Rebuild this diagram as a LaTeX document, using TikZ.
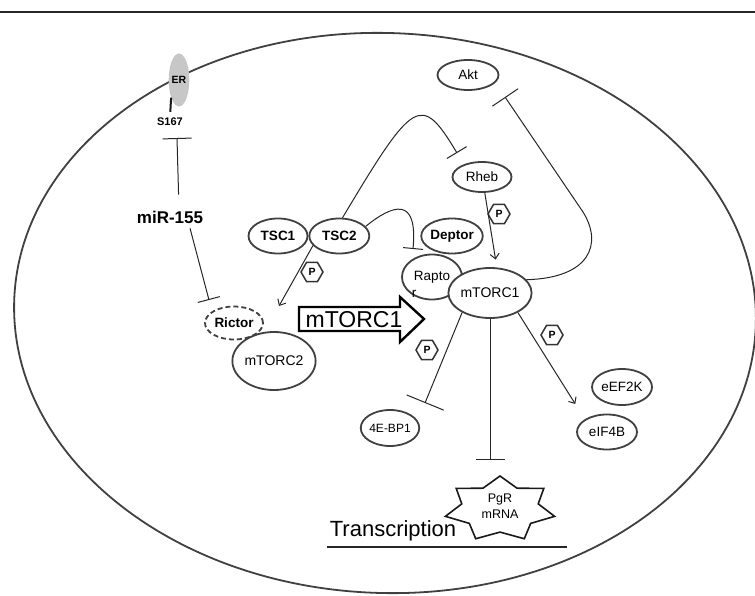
\documentclass[tikz,border=0pt]{standalone}
\usepackage{fontspec}
\setmainfont{Liberation Sans}
\usetikzlibrary{positioning}
\usetikzlibrary{shapes.geometric}
\usetikzlibrary{arrows.meta}
\tikzset{
	>={Straight Barb[length=5pt,width=9pt]},
	cellwall/.style={draw=black!75, line width=1.8pt},
	mol/.style={
		ellipse,
		draw=black!75, line width=1.8pt,
		fill=white,
		inner sep=0pt,
		font=\fontsize{13.5}{15}\selectfont},
	molb/.style={mol, font=\bfseries\fontsize{13.5}{15}\selectfont},
	phos/.style={
		regular polygon, regular polygon sides=6,
		draw=black!80, line width=1.5pt,
		minimum size=22pt, inner sep=0pt,
		font=\bfseries\fontsize{10.5}{11}\selectfont},
	act/.style={draw=black!85, line width=1pt, ->},
	inhibit/.style={draw=black!85, line width=1pt, -{Bar[width=#1]}},
	inhibit/.default=24pt,
	stub/.style={draw=black!90, line width=2pt},
	lbl/.style={inner sep=1pt},
}

\begin{document}
\begin{tikzpicture}[x=1pt, y=-1pt]
	\useasboundingbox (0,0) rectangle (755,596);
	\draw[line width=2.5pt, black!85] (0,12) -- (755,12);
	% the cell
	\draw[cellwall, rotate around={-2:(385,313)}] (385,313) ellipse [x radius=371pt, y radius=280pt];

	% receptor and microRNA
	\node[ellipse, fill=black!22, minimum width=20pt, minimum height=53pt, inner sep=0pt, font=\bfseries\fontsize{10.5}{11}\selectfont] (er) at (179,80) {ER};
	\node[lbl, font=\bfseries\fontsize{11}{12}\selectfont] (s167) at (170,122) {S167};
	\node[lbl, font=\bfseries\fontsize{17}{18}\selectfont] (mir) at (170,217) {miR-155};

	% mTORC2 side
	\node[molb, dash pattern=on 5pt off 3pt, minimum width=58pt, minimum height=33pt] (rictor) at (234,323) {Rictor};
	\node[mol, minimum width=82pt, minimum height=58pt, font=\fontsize{14}{15}\selectfont] (mtorc2) at (274,361) {mTORC2};
	\node[molb, minimum width=59pt, minimum height=35pt] (tsc1) at (278,236) {TSC1};
	\node[molb, minimum width=60pt, minimum height=35pt, right=0pt of tsc1] (tsc2) {TSC2};
	\node[phos] (p1) at (312,272) {P};

	% mTORC1 side
	\node[mol, minimum width=61pt, minimum height=30pt] (akt) at (468,75) {Akt};
	\node[mol, minimum width=59pt, minimum height=30pt] (rheb) at (482,177) {Rheb};
	\node[phos] (p2) at (499,214) {P};
	\node[molb, minimum width=55pt, minimum height=35pt] (deptor) at (452,236) {Deptor};
	\node[mol, minimum width=60pt, minimum height=45pt] (raptor) at (432,277) {Rapto};
	\node[lbl, font=\fontsize{13.5}{15}\selectfont] (raptor-r) at (414,294) {r};
	\node[mol, minimum width=74pt, minimum height=50pt, font=\fontsize{14}{15}\selectfont] (mtorc1) at (490,293) {mTORC1};
	\node[phos] (p3) at (427,350) {P};
	\node[phos] (p4) at (552,335) {P};
	\node[mol, minimum width=50pt, minimum height=36pt, font=\fontsize{12}{13}\selectfont] (bp1) at (390,428) {4E-BP1};
	\node[mol, minimum width=60pt, minimum height=36pt] (eef) at (622,387) {eEF2K};
	\node[mol, minimum width=60pt, minimum height=35pt] (eif) at (607,432) {eIF4B};

	% transcription
	\node[lbl, align=center, font=\fontsize{12.5}{15.5}\selectfont] (pgr) at (500,506) {PgR\\mRNA};
	\draw[line width=1.6pt, black!90, shift={(500,509)}, xscale=56, yscale=33]
		(-90:1) \foreach \a in {1,...,13} { -- ({-90+\a*360/14}:{mod(\a,2)==0 ? 1 : 0.7}) } -- cycle;
	\node[lbl, font=\fontsize{22}{24}\selectfont, anchor=base] (trans) at (393,536) {Transcription};
	\coordinate (uline-l) at (327,547);
	\coordinate (uline-r) at (567,547);
	\draw[line width=1.2pt, black!85] (uline-l) -- (uline-r);

	% big arrow
	\draw[line width=2.4pt, fill=white, line join=miter] (299,307) -- (400,307) -- (400,297) -- (424,319) -- (400,342) -- (400,331) -- (299,331) -- cycle;
	\node[lbl, font=\fontsize{23}{24}\selectfont, anchor=base] (bigarr) at (354,327) {mTORC1};

	% connectors
	\coordinate (s167bar) at (177,138);
	\coordinate (rictorbar) at (209,300);
	\coordinate (c2tip) at (279,306);
	\coordinate (rhebbar) at (457,153);
	\coordinate (raptorbar) at (413,249);
	\coordinate (aktbar) at (505,97);
	\coordinate (bp1bar) at (425,403);
	\coordinate (pgrbar) at (490,460);

	\draw[stub, shorten >=5pt] (er.246) -- (s167.north);
	\draw[inhibit=29pt, shorten <=15pt] ([xshift=9pt]mir.north) -- (s167bar);
	\draw[inhibit=23pt, shorten <=4pt] ([xshift=19pt]mir.south) -- (rictorbar);
	\draw[act] (tsc2.200) -- (c2tip);
	\draw[inhibit=23pt] (tsc2.80) .. controls (414,98) and (421,93) .. (rhebbar);
	\draw[inhibit=20pt] (tsc2.20) .. controls (392,205) and (418,195) .. (raptorbar);
	\draw[act, shorten >=8pt] (rheb.280) -- (mtorc1.75);
	\draw[inhibit=31pt] (mtorc1.20) .. controls (590,278) and (603,244) .. (583,212) -- (aktbar);
	\draw[inhibit=40pt] (mtorc1.215) -- (bp1bar);
	\draw[inhibit=29pt] (mtorc1.south) -- (pgrbar);
	\draw[act, shorten >=18pt] (mtorc1.325) -- (eif.150);
\end{tikzpicture}
\end{document}
